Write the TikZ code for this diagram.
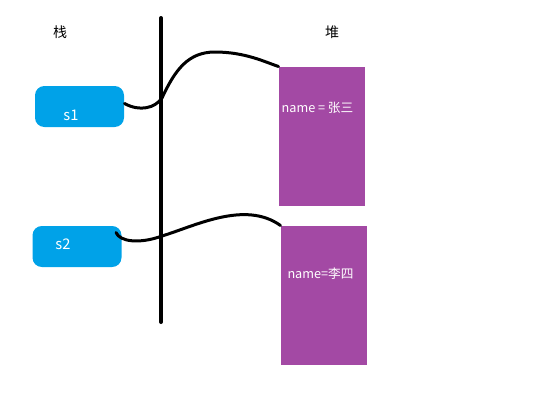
\documentclass[tikz,border=0pt]{standalone}
\usepackage{fontspec}
\setmainfont{Noto Sans CJK SC}
\usetikzlibrary{calc}
\tikzset{every picture/.style={line width=0.75pt}}
\definecolor{slotcyan}{RGB}{0,162,232}
\definecolor{heappurple}{RGB}{163,73,164}
\tikzset{
  refbox/.style={fill=slotcyan, rounded corners=7pt, minimum width=66.75pt, minimum height=30.75pt, inner sep=0pt},
  heapbox/.style={fill=heappurple, minimum width=64.5pt, minimum height=104.25pt, inner sep=0pt},
  link/.style={line width=2.25pt, line cap=round}
}

\begin{document}
\begin{tikzpicture}[x=0.75pt,y=0.75pt,yscale=-1,xscale=1]
	\useasboundingbox (0,0) rectangle (533,405);

	%Straight Lines [id:stackline] 
	\draw [line width=3pt, line cap=round] (161,18) -- (161,322) ;

	%Rounded Rect [id:s1] 
	\node [refbox] (s1) at (79.5,106.5) {};
	%Rounded Rect [id:s2] 
	\node [refbox] (s2) at (77,246.5) {};
	%Shape: Rectangle [id:heapa] 
	\node [heapbox] (heapa) at (322,136.5) {};
	%Shape: Rectangle [id:heapb] 
	\node [heapbox] (heapb) at (324,295.5) {};

	%Curve Lines [id:linka] 
	\draw [link] ($(s1.east)+(0,-3)$) .. controls (140,112) and (155,108) .. (162,98) .. controls (175,70) and (188,52) .. (215,52) .. controls (245,52) and (265,62) .. (heapa.north west) ;
	%Curve Lines [id:linkb] 
	\draw [link] ($(s2.north east)+(-6,7)$) .. controls (120,242) and (140,244) .. (162,236) .. controls (195,226) and (245,200) .. (heapb.north west) ;

	% Text Node
	\draw (60,32) node [font=\fontsize{10.5}{12}\selectfont] (stacklabel) {栈};
	% Text Node
	\draw (332,32) node [font=\fontsize{10.5}{12}\selectfont] (heaplabel) {堆};
	% Text Node
	\draw (71,115) node [color=white, font=\fontsize{11}{13}\selectfont] (s1label) {s1};
	% Text Node
	\draw (63,244) node [color=white, font=\fontsize{11}{13}\selectfont] (s2label) {s2};
	% Text Node
	\draw (317.5,108) node [color=white, font=\fontsize{9.5}{11}\selectfont] (namea) {name = 张三};
	% Text Node
	\draw (320.5,274) node [color=white, font=\fontsize{9.5}{11}\selectfont] (nameb) {name=李四};

\end{tikzpicture}
\end{document}
